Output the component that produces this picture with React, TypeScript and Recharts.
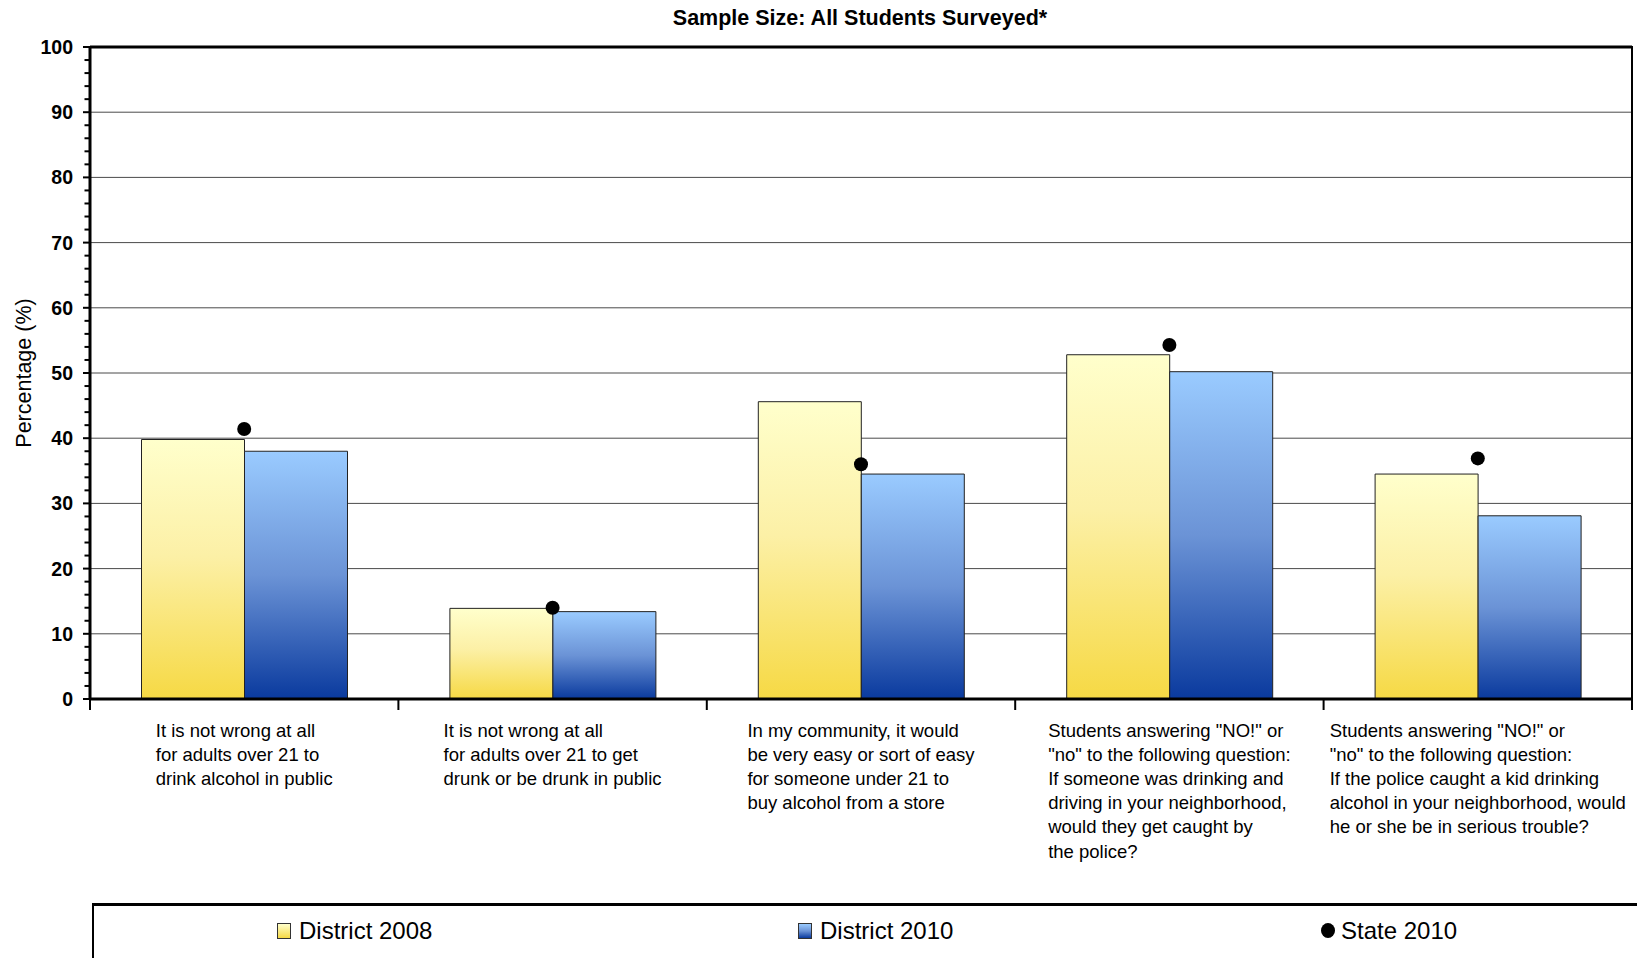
import React from 'react';
import {
  ComposedChart,
  Bar,
  Line,
  XAxis,
  YAxis,
  CartesianGrid,
  ReferenceLine,
  ReferenceArea,
  Legend,
  Label,
} from 'recharts';

const categories = [
  'It is not wrong at all\nfor adults over 21 to\ndrink alcohol in public',
  'It is not wrong at all\nfor adults over 21 to get\ndrunk or be drunk in public',
  'In my community, it would\nbe very easy or sort of easy\nfor someone under 21 to\nbuy alcohol from a store',
  'Students answering "NO!" or\n"no" to the following question:\nIf someone was drinking and\ndriving in your neighborhood,\nwould they get caught by\nthe police?',
  'Students answering "NO!" or\n"no" to the following question:\nIf the police caught a kid drinking\nalcohol in your neighborhood, would\nhe or she be in serious trouble?',
];
const district2008 = [39.8, 13.9, 45.6, 52.8, 34.5];
const district2010 = [38.0, 13.4, 34.5, 50.2, 28.1];
const state2010 = [41.4, 14.0, 36.0, 54.3, 36.9];

const yTicks = [
  0, 2, 4, 6, 8, 10, 12, 14, 16, 18, 20, 22, 24, 26, 28, 30, 32, 34, 36, 38, 40,
  42, 44, 46, 48, 50, 52, 54, 56, 58, 60, 62, 64, 66, 68, 70, 72, 74, 76, 78, 80,
  82, 84, 86, 88, 90, 92, 94, 96, 98, 100,
];
const gridValues = [10, 20, 30, 40, 50, 60, 70, 80, 90];
const legendLabels = ['District 2008', 'District 2010', 'State 2010'];
const titleText = 'Sample Size: All Students Surveyed*';

const data = categories.map((c, i) => ({
  category: c,
  d2008: district2008[i],
  d2010: district2010[i],
  state: state2010[i],
}));

const FONT = '"Liberation Sans", Arial, sans-serif';
const CAT_FONT_SIZE = 18.5;

let ctx: CanvasRenderingContext2D | null = null;
function textWidth(s: string, font: string): number {
  if (!ctx && typeof document !== 'undefined') {
    ctx = document.createElement('canvas').getContext('2d');
  }
  if (!ctx) return s.length * 9;
  ctx.font = font;
  return ctx.measureText(s).width;
}

const XTick = (props: any) => {
  const { x, y, payload, index, width, visibleTicksCount } = props;
  const band = width && visibleTicksCount ? width / visibleTicksCount : 308.4;
  const lines: string[] = String(payload.value).split('\n');
  const font = `${CAT_FONT_SIZE}px "Liberation Sans"`;
  const maxW = Math.max(...lines.map((l) => textWidth(l, font)));
  const left = x - maxW / 2;
  return (
    <g>
      <line x1={x - band / 2} x2={x - band / 2} y1={y} y2={y + 11} stroke="#000" strokeWidth={2} />
      {index === visibleTicksCount - 1 && (
        <line x1={x + band / 2} x2={x + band / 2} y1={y} y2={y + 11} stroke="#000" strokeWidth={2} />
      )}
      <text x={left} y={y + 37.5} fontSize={CAT_FONT_SIZE} fontFamily={FONT} fill="#000">
        {lines.map((l, i) => (
          <tspan key={i} x={left} dy={i === 0 ? 0 : 24.2}>
            {l}
          </tspan>
        ))}
      </text>
    </g>
  );
};

const YTick = (props: any) => {
  const { x, y, payload } = props;
  const v = payload.value;
  const major = v % 10 === 0;
  return (
    <g>
      <line x1={x - (major ? 7 : 5.5)} x2={x} y1={y} y2={y} stroke="#000" strokeWidth={2} />
      {major && (
        <text
          x={x - 17}
          y={y}
          dy="0.36em"
          textAnchor="end"
          fontWeight="bold"
          fontSize={19.5}
          fontFamily={FONT}
          fill="#000"
        >
          {v}
        </text>
      )}
    </g>
  );
};

const YLabel = (props: any) => {
  const vb = props.viewBox || { x: 0, y: 47, width: 90, height: 652 };
  const cx = vb.x + 24;
  const cy = vb.y + vb.height / 2;
  return (
    <text
      x={cx}
      y={cy}
      transform={`rotate(-90 ${cx} ${cy})`}
      textAnchor="middle"
      dominantBaseline="central"
      fontSize={21.5}
      fontFamily={FONT}
      fill="#000"
    >
      Percentage (%)
    </text>
  );
};

const LegendContent = () => {
  const textStyle: React.CSSProperties = {
    position: 'absolute',
    top: 11,
    lineHeight: '28px',
    fontSize: 24,
    whiteSpace: 'nowrap',
  };
  const swatch: React.CSSProperties = {
    position: 'absolute',
    top: 17,
    width: 14,
    height: 16,
    boxSizing: 'border-box',
    border: '1px solid #333',
  };
  return (
    <div
      style={{
        position: 'relative',
        width: 1545,
        height: 55,
        boxSizing: 'border-box',
        borderTop: '3px solid #000',
        borderLeft: '2px solid #000',
        fontFamily: FONT,
        color: '#000',
      }}
    >
      <div style={{ ...swatch, left: 183, background: 'linear-gradient(#FFFFCC, #F6D944)' }} />
      <div style={{ ...textStyle, left: 205 }}>{legendLabels[0]}</div>
      <div style={{ ...swatch, left: 704, background: 'linear-gradient(#9ACBFF, #6B93D6, #0A3A9E)' }} />
      <div style={{ ...textStyle, left: 726 }}>{legendLabels[1]}</div>
      <div
        style={{
          position: 'absolute',
          left: 1227,
          top: 17,
          width: 14,
          height: 15,
          borderRadius: '50%',
          background: '#000',
        }}
      />
      <div style={{ ...textStyle, left: 1247 }}>{legendLabels[2]}</div>
    </div>
  );
};

export default function App() {
  return (
    <div style={{ position: 'absolute', left: 0, top: 0, width: 1637, height: 958, background: '#fff', fontFamily: FONT }}>
      <ComposedChart
        width={1637}
        height={958}
        data={data}
        margin={{ top: 47, right: 5, bottom: 109, left: 0 }}
        barCategoryGap="16.7%"
        barGap={0}
        style={{ fontFamily: FONT }}
      >
        <defs>
          <linearGradient id="gradYellow" x1="0" y1="0" x2="0" y2="1">
            <stop offset="0%" stopColor="#FFFFCC" />
            <stop offset="45%" stopColor="#FCF0A6" />
            <stop offset="100%" stopColor="#F6D944" />
          </linearGradient>
          <linearGradient id="gradBlue" x1="0" y1="0" x2="0" y2="1">
            <stop offset="0%" stopColor="#9ACBFF" />
            <stop offset="50%" stopColor="#6B93D6" />
            <stop offset="100%" stopColor="#0A3A9E" />
          </linearGradient>
        </defs>
        <CartesianGrid horizontal vertical={false} horizontalValues={gridValues} stroke="#4a4a4a" strokeWidth={1} />
        <XAxis
          dataKey="category"
          height={150}
          interval={0}
          tickLine={false}
          tickSize={0}
          tickMargin={0}
          axisLine={{ stroke: '#000', strokeWidth: 3 }}
          tick={<XTick />}
        />
        <YAxis
          type="number"
          domain={[0, 100]}
          ticks={yTicks}
          interval={0}
          width={90}
          tickLine={false}
          tickSize={0}
          tickMargin={0}
          axisLine={{ stroke: '#000', strokeWidth: 3 }}
          tick={<YTick />}
          label={<Label content={<YLabel />} />}
        />
        <ReferenceArea y1={0} y2={100} fill="none" stroke="#000" strokeWidth={2} />
        <ReferenceLine y={100} stroke="#000" strokeWidth={3} />
        <Bar dataKey="d2008" name={legendLabels[0]} fill="url(#gradYellow)" stroke="#222" strokeWidth={1} isAnimationActive={false} />
        <Bar dataKey="d2010" name={legendLabels[1]} fill="url(#gradBlue)" stroke="#222" strokeWidth={1} isAnimationActive={false} />
        <Line
          dataKey="state"
          name={legendLabels[2]}
          stroke="none"
          dot={{ r: 7, fill: '#000', stroke: 'none' }}
          activeDot={false}
          isAnimationActive={false}
        />
        <Legend
          layout="horizontal"
          align="center"
          verticalAlign="middle"
          wrapperStyle={{ top: 903, left: 92, width: 1545, height: 55 }}
          content={<LegendContent />}
        />
      </ComposedChart>
      <div
        style={{
          position: 'absolute',
          left: 460,
          width: 800,
          top: 5,
          lineHeight: '26px',
          textAlign: 'center',
          fontSize: 21.5,
          fontWeight: 'bold',
          color: '#000',
          whiteSpace: 'nowrap',
        }}
      >
        {titleText}
      </div>
    </div>
  );
}
